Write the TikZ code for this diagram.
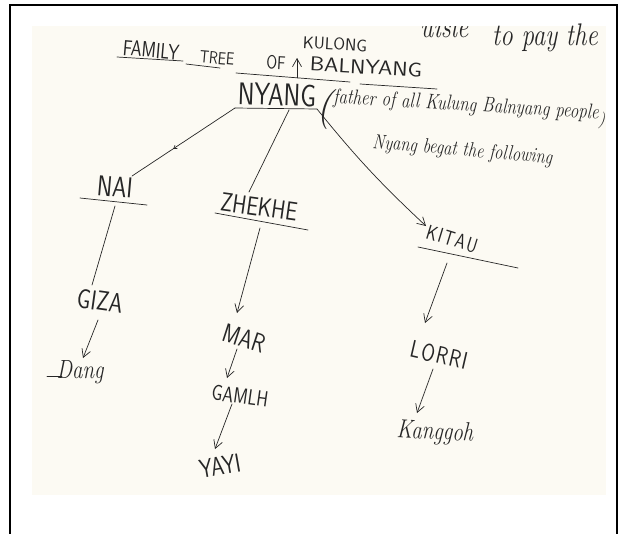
\documentclass[tikz,border=0pt]{standalone}
\usepackage{fontspec}
\usetikzlibrary{arrows.meta,decorations.markings}
\definecolor{ink}{HTML}{262626}
\definecolor{paper}{HTML}{FCFAF3}
\newcommand\tallink[1]{\scalebox{1}[1.25]{#1}}
\newcommand\wideink[1]{\scalebox{1.15}[1]{#1}}
\tikzset{
  caps/.style={text=ink, inner sep=0pt, font=\sffamily\fontsize{#1}{#1}\selectfont},
  cursive/.style={text=ink, inner sep=0pt, font=\itshape\fontsize{#1}{#1}\selectfont},
  pen/.style={draw=ink, line width=0.7pt, line cap=round},
  penarrow/.style={pen, -{Straight Barb[length=8pt,width=9pt,line width=0.7pt]}},
}
\begin{document}
\begin{tikzpicture}[x=1pt,y=-1pt]
\useasboundingbox (0,0) rectangle (618,533);
\fill[white] (0,0) rectangle (618,533);
\fill[paper] (32,26) rectangle (606,495);
\draw[black, line width=2pt] (10,545) -- (10,5) -- (617,5) -- (617,545);

% partly cut text at top of the sheet
\begin{scope}
\clip (32,26) rectangle (606,495);
\node[cursive=25, anchor=base west] (cut) at (420,37) {\tallink{uisle}};
\end{scope}
\node[cursive=25, anchor=base west] (pay) at (492,45) {\tallink{to pay the}};

% title
\node[caps=17.5, rotate=-5] (family) at (151,50) {\tallink{FAMILY}};
\node[caps=14, rotate=-5] (tree) at (217,58) {\tallink{TREE}};
\node[caps=15, rotate=-3] (of) at (276,63) {\tallink{OF}};
\node[caps=17, rotate=-3] (kulong) at (335,44) {KULONG};
\node[caps=20, rotate=-3] (balnyang) at (366,67) {\wideink{BALNYANG}};
\coordinate (caretB) at (297,78);
\coordinate (caretT) at (297,58);
\draw[penarrow] (caretB) -- (caretT);
\coordinate (u1a) at (117,57); \coordinate (u1b) at (183,61);
\coordinate (u2a) at (186,64); \coordinate (u2b) at (220,68);
\coordinate (u3a) at (236,73); \coordinate (u3b) at (350,82);
\coordinate (u4a) at (360,84); \coordinate (u4b) at (437,89);
\draw[pen] (u1a) -- (u1b);
\draw[pen] (u2a) -- (u2b);
\draw[pen] (u3a) -- (u3b);
\draw[pen] (u4a) -- (u4b);

% Nyang
\node[caps=25, rotate=-2] (nyang) at (277,95) {\tallink{NYANG}};
\coordinate (nyL) at (235,108); \coordinate (nyM) at (289,110); \coordinate (nyR) at (317,109);
\draw[pen] (nyL) -- (nyR);
\node[cursive=40, anchor=center] (paren) at (324,110) {(};
\node[cursive=17, anchor=base west, rotate=-3.4] (father) at (333,103)
  {\tallink{father of all Kulung Balnyang people}\raisebox{-6pt}{)}};
\node[cursive=16.5, anchor=base west, rotate=-5] (begat) at (372,148)
  {\tallink{Nyang begat the following}};

% first generation
\node[caps=23, rotate=-5] (nai) at (115,187) {\tallink{NAI}};
\coordinate (naiL) at (80,198); \coordinate (naiR) at (147,205);
\coordinate (naiIn) at (132,176); \coordinate (naiOut) at (115,206);
\draw[pen] (naiL) -- (naiR);

\node[caps=21, rotate=-8] (zhekhe) at (259,207) {\tallink{ZHEKHE}};
\coordinate (zhL) at (215,213); \coordinate (zhR) at (308,230);
\coordinate (zhIn) at (249,192); \coordinate (zhOut) at (260,228);
\draw[pen] (zhL) -- (zhR);

\node[caps=16.5, rotate=-17] (kitau) at (452,239) {\tallink{K\kern1.5pt I\kern1.5pt T\kern1.5pt A\kern1.5pt U}};
\coordinate (kiL) at (418,247); \coordinate (kiR) at (518,268);
\coordinate (kiIn) at (426,226); \coordinate (kiOut) at (447,263);
\draw[pen] (kiL) -- (kiR);

\draw[pen, decoration={markings, mark=at position 0.6 with {\arrow{Straight Barb[length=3pt,width=4pt,line width=0.6pt]}}}, postaction={decorate}] (nyL) -- (naiIn);
\draw[pen] (nyM) -- (zhIn);
\draw[penarrow] (nyR) to[bend right=4] (kiIn);

% second generation and beyond
\node[caps=22, rotate=-8] (giza) at (100,301) {\tallink{GIZA}};
\coordinate (gizaIn) at (92,285); \coordinate (gizaOut) at (98,320);
\draw[pen] (naiOut) -- (gizaIn);

\node[cursive=21, anchor=base] (dang) at (80,378) {\tallink{Dang}};
\coordinate (dangS) at (47,376); \coordinate (dangE) at (62,376);
\draw[pen] (dangS) -- (dangE);
\coordinate (dangIn) at (83,358);
\draw[penarrow] (gizaOut) -- (dangIn);

\node[caps=21, rotate=-18] (mar) at (244,338) {\tallink{MAR}};
\coordinate (marIn) at (237,313); \coordinate (marOut) at (237,349);
\draw[penarrow] (zhOut) -- (marIn);

\node[caps=17.5, rotate=-8] (gamlh) at (240,396) {\tallink{GAMLH}};
\coordinate (gamIn) at (227,378); \coordinate (gamOut) at (232,404);
\draw[penarrow] (marOut) -- (gamIn);

\node[caps=21, rotate=10] (yayi) at (220,466) {\tallink{YAYI}};
\coordinate (yayiIn) at (215,449);
\draw[penarrow] (gamOut) -- (yayiIn);

\node[caps=19.5, rotate=-13] (lorri) at (439,355) {\tallink{L\kern1.5pt O\kern1.5pt R\kern1.5pt R\kern1.5pt I}};
\coordinate (loIn) at (425,323); \coordinate (loOut) at (433,369);
\draw[penarrow] (kiOut) -- (loIn);

\node[cursive=21, rotate=-3] (kanggoh) at (435,433) {\tallink{Kanggoh}};
\coordinate (kaIn) at (417,413);
\draw[penarrow] (loOut) -- (kaIn);
\end{tikzpicture}
\end{document}
